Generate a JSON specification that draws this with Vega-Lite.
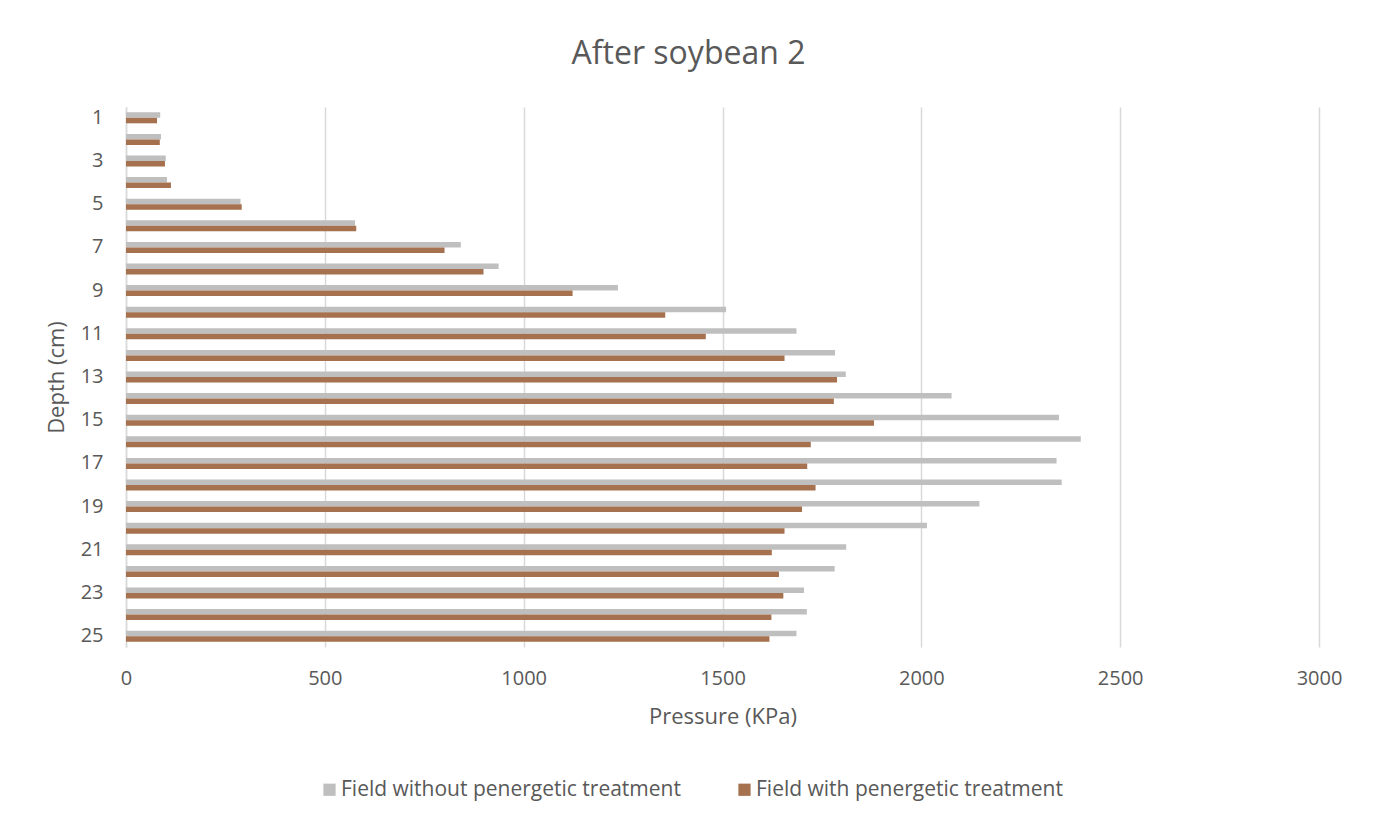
{
  "$schema": "https://vega.github.io/schema/vega-lite/v6.json",
  "width": 1193,
  "height": 540,
  "autosize": {"type": "none"},
  "padding": {"left": 126, "top": 107, "right": 58, "bottom": 175},
  "background": "white",
  "title": {
    "text": "After soybean 2",
    "font": "Open Sans",
    "fontSize": 32,
    "fontWeight": "normal",
    "color": "#595959",
    "anchor": "middle",
    "frame": "group",
    "dx": -34,
    "baseline": "alphabetic",
    "offset": 11
  },
  "config": {
    "view": {"stroke": null},
    "font": "Open Sans"
  },
  "data": {
    "values": [
      {"depth": 1, "series": "Field without penergetic treatment", "value": 86},
      {"depth": 2, "series": "Field without penergetic treatment", "value": 88},
      {"depth": 3, "series": "Field without penergetic treatment", "value": 100},
      {"depth": 4, "series": "Field without penergetic treatment", "value": 103},
      {"depth": 5, "series": "Field without penergetic treatment", "value": 288},
      {"depth": 6, "series": "Field without penergetic treatment", "value": 576},
      {"depth": 7, "series": "Field without penergetic treatment", "value": 842},
      {"depth": 8, "series": "Field without penergetic treatment", "value": 937},
      {"depth": 9, "series": "Field without penergetic treatment", "value": 1237},
      {"depth": 10, "series": "Field without penergetic treatment", "value": 1509},
      {"depth": 11, "series": "Field without penergetic treatment", "value": 1686},
      {"depth": 12, "series": "Field without penergetic treatment", "value": 1783},
      {"depth": 13, "series": "Field without penergetic treatment", "value": 1810},
      {"depth": 14, "series": "Field without penergetic treatment", "value": 2076},
      {"depth": 15, "series": "Field without penergetic treatment", "value": 2346},
      {"depth": 16, "series": "Field without penergetic treatment", "value": 2401},
      {"depth": 17, "series": "Field without penergetic treatment", "value": 2340},
      {"depth": 18, "series": "Field without penergetic treatment", "value": 2353},
      {"depth": 19, "series": "Field without penergetic treatment", "value": 2146},
      {"depth": 20, "series": "Field without penergetic treatment", "value": 2014},
      {"depth": 21, "series": "Field without penergetic treatment", "value": 1811},
      {"depth": 22, "series": "Field without penergetic treatment", "value": 1782},
      {"depth": 23, "series": "Field without penergetic treatment", "value": 1705},
      {"depth": 24, "series": "Field without penergetic treatment", "value": 1712},
      {"depth": 25, "series": "Field without penergetic treatment", "value": 1686},
      {"depth": 1, "series": "Field with penergetic treatment", "value": 78},
      {"depth": 2, "series": "Field with penergetic treatment", "value": 85},
      {"depth": 3, "series": "Field with penergetic treatment", "value": 98},
      {"depth": 4, "series": "Field with penergetic treatment", "value": 113},
      {"depth": 5, "series": "Field with penergetic treatment", "value": 291},
      {"depth": 6, "series": "Field with penergetic treatment", "value": 579},
      {"depth": 7, "series": "Field with penergetic treatment", "value": 801},
      {"depth": 8, "series": "Field with penergetic treatment", "value": 899},
      {"depth": 9, "series": "Field with penergetic treatment", "value": 1123},
      {"depth": 10, "series": "Field with penergetic treatment", "value": 1356},
      {"depth": 11, "series": "Field with penergetic treatment", "value": 1458},
      {"depth": 12, "series": "Field with penergetic treatment", "value": 1656},
      {"depth": 13, "series": "Field with penergetic treatment", "value": 1788},
      {"depth": 14, "series": "Field with penergetic treatment", "value": 1780},
      {"depth": 15, "series": "Field with penergetic treatment", "value": 1881},
      {"depth": 16, "series": "Field with penergetic treatment", "value": 1722},
      {"depth": 17, "series": "Field with penergetic treatment", "value": 1713},
      {"depth": 18, "series": "Field with penergetic treatment", "value": 1734},
      {"depth": 19, "series": "Field with penergetic treatment", "value": 1700},
      {"depth": 20, "series": "Field with penergetic treatment", "value": 1656},
      {"depth": 21, "series": "Field with penergetic treatment", "value": 1624},
      {"depth": 22, "series": "Field with penergetic treatment", "value": 1642},
      {"depth": 23, "series": "Field with penergetic treatment", "value": 1653},
      {"depth": 24, "series": "Field with penergetic treatment", "value": 1623},
      {"depth": 25, "series": "Field with penergetic treatment", "value": 1618}
    ]
  },
  "mark": {"type": "bar"},
  "encoding": {
    "y": {
      "field": "depth",
      "type": "ordinal",
      "sort": "ascending",
      "scale": {"paddingInner": 0.49, "paddingOuter": 0.245},
      "axis": {
        "title": "Depth (cm)",
        "values": [1, 3, 5, 7, 9, 11, 13, 15, 17, 19, 21, 23, 25],
        "labelFont": "Open Sans",
        "labelFontSize": 20,
        "labelColor": "#595959",
        "labelPadding": 23,
        "labelAngle": 0,
        "ticks": false,
        "domainColor": "#D9D9D9",
        "domainWidth": 1.5,
        "titleFont": "Open Sans",
        "titleFontSize": 22,
        "titleFontWeight": "normal",
        "titleColor": "#595959",
        "titlePadding": 12
      }
    },
    "yOffset": {
      "field": "series",
      "type": "nominal",
      "sort": ["Field without penergetic treatment", "Field with penergetic treatment"]
    },
    "x": {
      "field": "value",
      "type": "quantitative",
      "scale": {"domain": [0, 3000], "nice": false},
      "axis": {
        "title": "Pressure (KPa)",
        "values": [0, 500, 1000, 1500, 2000, 2500, 3000],
        "format": "d",
        "labelFlush": false,
        "grid": true,
        "gridColor": "#D9D9D9",
        "gridWidth": 1.5,
        "domain": false,
        "ticks": false,
        "labelFont": "Open Sans",
        "labelFontSize": 20,
        "labelColor": "#595959",
        "labelPadding": 21,
        "titleFont": "Open Sans",
        "titleFontSize": 22,
        "titleFontWeight": "normal",
        "titleColor": "#595959",
        "titlePadding": 18
      }
    },
    "color": {
      "field": "series",
      "type": "nominal",
      "scale": {
        "domain": ["Field without penergetic treatment", "Field with penergetic treatment"],
        "range": ["#BFBFBF", "#A5714E"]
      },
      "legend": {
        "title": null,
        "orient": "none",
        "direction": "horizontal",
        "legendX": 193,
        "legendY": 672,
        "symbolType": "square",
        "symbolSize": 150,
        "symbolStrokeWidth": 0,
        "labelFont": "Open Sans",
        "labelFontSize": 21,
        "labelColor": "#595959",
        "labelOffset": 1,
        "columnPadding": 53,
        "padding": 0,
        "labelLimit": 600
      }
    }
  }
}
